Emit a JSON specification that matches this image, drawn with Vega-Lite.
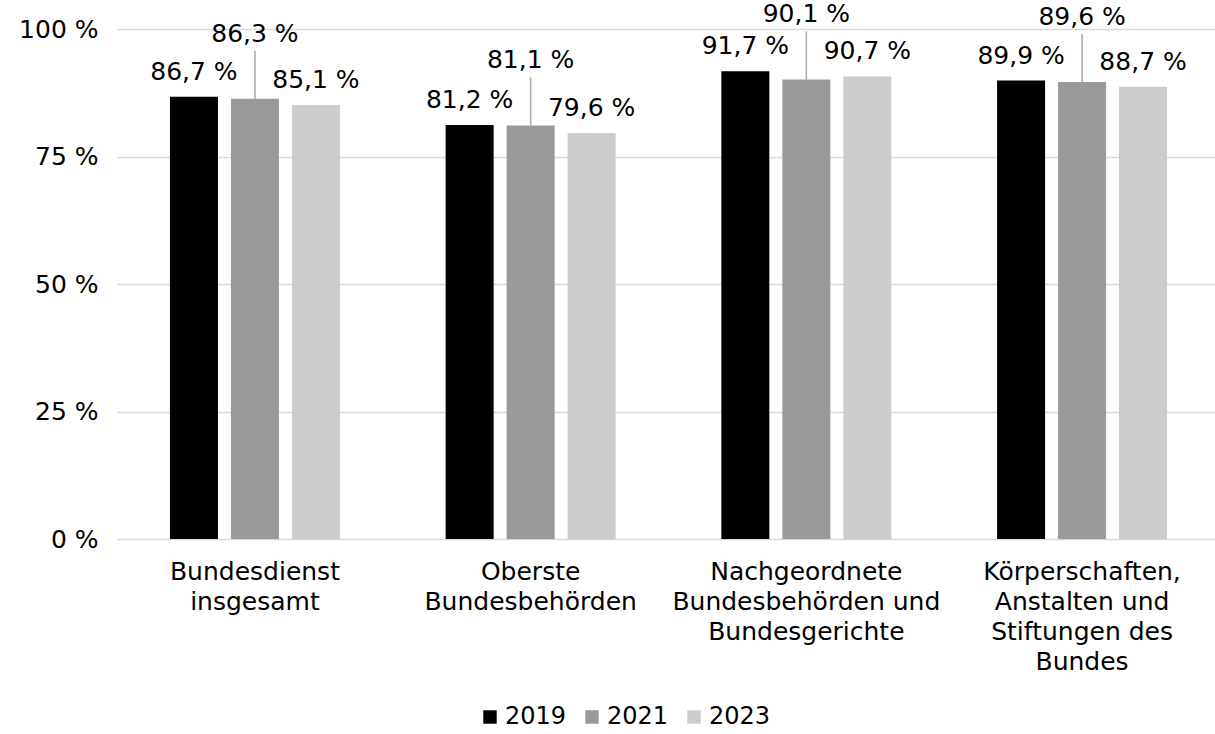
{
  "$schema": "https://vega.github.io/schema/vega-lite/v6.json",
  "width": 1103,
  "height": 510,
  "autosize": {"type": "none"},
  "padding": {"left": 117, "top": 29, "right": 0, "bottom": 195},
  "background": "white",
  "config": {
    "font": "DejaVu Sans",
    "view": {"stroke": null},
    "axis": {"labelColor": "#000000", "labelFont": "DejaVu Sans"},
    "legend": {"labelFont": "DejaVu Sans"}
  },
  "data": {
    "values": [
      {"category": "Bundesdienst|insgesamt", "year": "2019", "value": 86.7},
      {"category": "Bundesdienst|insgesamt", "year": "2021", "value": 86.3},
      {"category": "Bundesdienst|insgesamt", "year": "2023", "value": 85.1},
      {"category": "Oberste|Bundesbehörden", "year": "2019", "value": 81.2},
      {"category": "Oberste|Bundesbehörden", "year": "2021", "value": 81.1},
      {"category": "Oberste|Bundesbehörden", "year": "2023", "value": 79.6},
      {"category": "Nachgeordnete|Bundesbehörden und|Bundesgerichte", "year": "2019", "value": 91.7},
      {"category": "Nachgeordnete|Bundesbehörden und|Bundesgerichte", "year": "2021", "value": 90.1},
      {"category": "Nachgeordnete|Bundesbehörden und|Bundesgerichte", "year": "2023", "value": 90.7},
      {"category": "Körperschaften,|Anstalten und|Stiftungen des|Bundes", "year": "2019", "value": 89.9},
      {"category": "Körperschaften,|Anstalten und|Stiftungen des|Bundes", "year": "2021", "value": 89.6},
      {"category": "Körperschaften,|Anstalten und|Stiftungen des|Bundes", "year": "2023", "value": 88.7}
    ]
  },
  "encoding": {
    "x": {
      "field": "category",
      "type": "nominal",
      "sort": null,
      "scale": {"paddingInner": 0.3834, "paddingOuter": 0.192},
      "axis": {
        "title": null,
        "labelAngle": 0,
        "labelFontSize": 25,
        "labelLineHeight": 30,
        "labelPadding": 20,
        "labelLimit": 500,
        "labelExpr": "split(datum.label, '|')",
        "domain": false,
        "ticks": false,
        "labelColor": "#000000"
      }
    },
    "xOffset": {
      "field": "year",
      "type": "nominal",
      "scale": {"paddingInner": 0.213, "paddingOuter": 0}
    },
    "y": {
      "field": "value",
      "type": "quantitative",
      "scale": {"domain": [0, 100], "nice": false},
      "axis": {
        "title": null,
        "values": [0, 25, 50, 75, 100],
        "labelExpr": "datum.value + ' %'",
        "labelFontSize": 25,
        "labelPadding": 19,
        "domain": false,
        "ticks": false,
        "grid": true,
        "gridColor": "#d9d9d9",
        "gridWidth": 1.5,
        "labelColor": "#000000"
      }
    }
  },
  "layer": [
    {
      "mark": {"type": "bar"},
      "encoding": {
        "color": {
          "field": "year",
          "type": "nominal",
          "scale": {"domain": ["2019", "2021", "2023"], "range": ["#000000", "#999999", "#cccccc"]},
          "legend": {
            "title": null,
            "orient": "none",
            "legendX": 361,
            "legendY": 676,
            "direction": "horizontal",
            "symbolType": "square",
            "symbolSize": 180,
            "symbolStrokeWidth": 0,
            "labelFontSize": 24,
            "labelColor": "#000000",
            "labelOffset": 3,
            "columnPadding": 13
          }
        }
      }
    },
    {
      "transform": [{"filter": "datum.year != '2021'"}],
      "mark": {
        "type": "text",
        "fontSize": 25,
        "color": "#000000",
        "baseline": "alphabetic",
        "align": "center",
        "dy": -17,
        "text": {"expr": "replace(format(datum.value, '.1f'), '.', ',') + ' %'"}
      }
    },
    {
      "transform": [{"filter": "datum.year == '2021'"}],
      "mark": {
        "type": "text",
        "fontSize": 25,
        "color": "#000000",
        "baseline": "alphabetic",
        "align": "center",
        "dy": -57,
        "text": {"expr": "replace(format(datum.value, '.1f'), '.', ',') + ' %'"}
      }
    },
    {
      "transform": [{"filter": "datum.year == '2021'"}],
      "mark": {"type": "rule", "color": "#a6a6a6", "strokeWidth": 1.5, "y2Offset": -48},
      "encoding": {
        "y2": {"field": "value"}
      }
    }
  ]
}
